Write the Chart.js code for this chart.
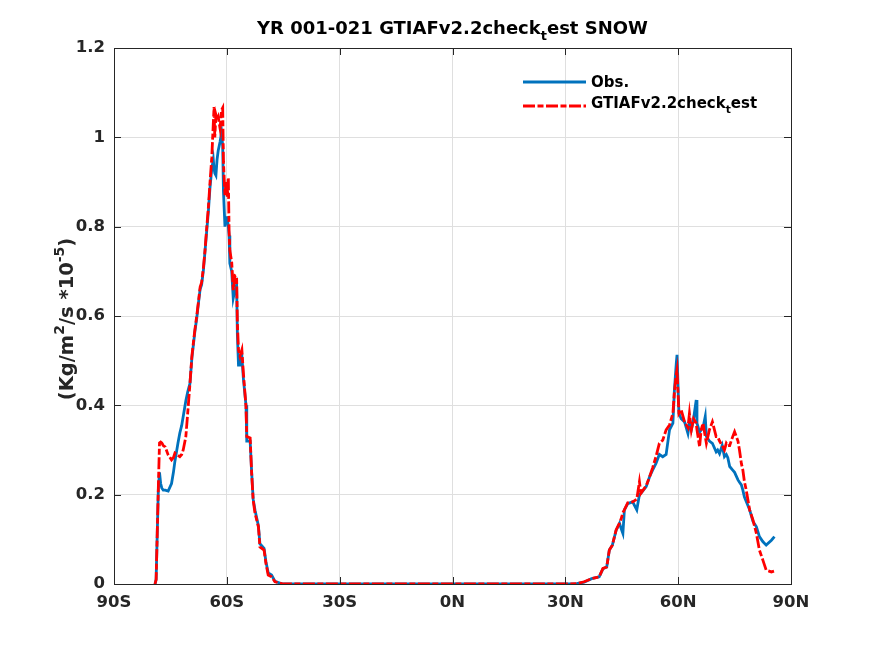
<!DOCTYPE html>
<html>
<head>
<meta charset="utf-8">
<script src="https://cdn.jsdelivr.net/npm/chart.js@4.4.1/dist/chart.umd.min.js"></script>
<style>
html, body { margin: 0; padding: 0; background: #ffffff; }
#wrap { width: 875px; height: 656px; }
</style>
</head>
<body>
<div id="wrap"><canvas id="chart" width="875" height="656"></canvas></div>
<script>
// latitudes (deg, negative = south)
var lats = [
  -79.1, -78.8, -78.5, -78.2, -77.9, -77.6, -77.3, -76.9, -76.4, -75.6,
  -74.7, -74.2, -73.8, -73.0, -72.5, -72.0, -71.6, -70.9, -70.4, -69.8,
  -69.3, -68.9, -68.5, -68.0, -67.6, -67.1, -66.7, -66.2, -65.8, -65.4,
  -64.9, -64.5, -64.0, -63.6, -63.4, -63.2, -62.9, -62.6, -62.3, -61.8,
  -61.4, -61.1, -60.9, -60.5, -60.2, -59.9, -59.6, -59.4, -59.2, -58.7,
  -58.3, -57.8, -57.4, -57.2, -56.9, -56.5, -56.0, -55.6, -54.9, -54.7,
  -53.8, -53.4, -53.0, -52.5, -51.6, -51.2, -50.1, -49.6, -49.0, -48.1,
  -47.2, -45.9, -45.0, -30.0, 0.0, 30.0, 33.0, 35.0, 37.0, 39.0,
  40.0, 41.0, 41.7, 42.5, 43.5, 44.4, 45.0, 45.3, 45.7, 46.6,
  47.9, 49.0, 49.7, 50.1, 51.5, 52.4, 53.2, 54.1, 55.0, 55.9,
  56.8, 57.7, 58.6, 59.0, 59.5, 59.7, 60.2, 60.8, 61.7, 62.6,
  63.0, 63.5, 64.1, 64.8, 65.0, 65.7, 66.1, 66.6, 67.2, 67.5,
  68.3, 69.1, 69.2, 70.1, 70.5, 71.0, 71.7, 72.3, 72.8, 73.2,
  73.7, 74.5, 75.0, 75.9, 76.3, 76.8, 77.2, 77.6, 78.1, 79.0,
  79.9, 80.8, 81.6, 82.5, 83.4, 84.8, 85.6
];

// Obs. snowfall (Kg/m^2/s *10^-5)
var obs = [
  0, 0.01, 0.114, 0.215, 0.25, 0.225, 0.215, 0.21, 0.21, 0.208,
  0.225, 0.25, 0.275, 0.315, 0.338, 0.355, 0.375, 0.41, 0.43, 0.449,
  0.505, 0.535, 0.565, 0.595, 0.625, 0.66, 0.67, 0.705, 0.745, 0.785,
  0.835, 0.885, 0.93, 0.95, 0.93, 0.92, 0.915, 0.95, 0.97, 0.99,
  1.01, 0.98, 0.88, 0.80, 0.82, 0.82, 0.80, 0.78, 0.718, 0.70,
  0.64, 0.66, 0.67, 0.56, 0.49, 0.49, 0.51, 0.46, 0.40, 0.32,
  0.32, 0.25, 0.19, 0.165, 0.13, 0.09, 0.08, 0.05, 0.025, 0.02,
  0.006, 0.002, 0, 0, 0, 0, 0.001, 0.004, 0.012, 0.016,
  0.034, 0.038, 0.076, 0.087, 0.12, 0.136, 0.12, 0.113, 0.166, 0.18,
  0.184, 0.166, 0.20, 0.203, 0.218, 0.24, 0.255, 0.27, 0.29, 0.285,
  0.29, 0.345, 0.36, 0.434, 0.494, 0.513, 0.382, 0.37, 0.363, 0.337,
  0.36, 0.345, 0.37, 0.412, 0.36, 0.34, 0.345, 0.35, 0.375, 0.33,
  0.32, 0.315, 0.315, 0.296, 0.30, 0.292, 0.31, 0.285, 0.29, 0.283,
  0.263, 0.255, 0.25, 0.233, 0.228, 0.222, 0.21, 0.195, 0.185, 0.166,
  0.14, 0.128, 0.106, 0.095, 0.087, 0.098, 0.106
];

// GTIAFv2.2check_test snowfall
var model = [
  0, 0.01, 0.114, 0.22, 0.316, 0.318, 0.316, 0.31, 0.307, 0.289,
  0.278, 0.283, 0.293, 0.288, 0.285, 0.29, 0.30, 0.33, 0.383, 0.449,
  0.509, 0.54, 0.569, 0.60, 0.628, 0.665, 0.675, 0.71, 0.747, 0.792,
  0.844, 0.896, 0.955, 1.03, 1.068, 1.0, 1.05, 1.04, 1.046, 1.02,
  1.061, 1.066, 0.945, 0.87, 0.90, 0.867, 0.91, 0.79, 0.747, 0.72,
  0.658, 0.69, 0.688, 0.584, 0.524, 0.51, 0.524, 0.472, 0.397, 0.33,
  0.327, 0.248, 0.188, 0.158, 0.128, 0.083, 0.076, 0.046, 0.02, 0.016,
  0.005, 0.002, 0, 0, 0, 0, 0.001, 0.005, 0.012, 0.016,
  0.035, 0.038, 0.076, 0.087, 0.121, 0.136, 0.15, 0.16, 0.166, 0.182,
  0.184, 0.19, 0.229, 0.203, 0.22, 0.24, 0.26, 0.285, 0.315, 0.322,
  0.345, 0.356, 0.382, 0.43, 0.47, 0.48, 0.382, 0.39, 0.363, 0.35,
  0.382, 0.345, 0.37, 0.36, 0.345, 0.307, 0.345, 0.36, 0.33, 0.315,
  0.345, 0.363, 0.36, 0.33, 0.33, 0.32, 0.31, 0.30, 0.315, 0.31,
  0.31, 0.33, 0.341, 0.32, 0.30, 0.27, 0.255, 0.23, 0.21, 0.166,
  0.143, 0.113, 0.076, 0.054, 0.031, 0.027, 0.029
];

var xTicks = [-90, -60, -30, 0, 30, 60, 90];
var xTickLabels = ['90S', '60S', '30S', '0N', '30N', '60N', '90N'];
var yTicks = [0, 0.2, 0.4, 0.6, 0.8, 1.0, 1.2];
var yTickLabels = ['0', '0.2', '0.4', '0.6', '0.8', '1', '1.2'];

var axisColor = '#262626';
var gridColor = '#dfdfdf';
var obsColor = '#0072bd';
var modelColor = '#ff0000';
var modelDash = [12, 2.5, 6, 2.5];
var lineW = 2.8;
var fontFam = '"DejaVu Sans", Arial, sans-serif';

function pairs(ys) {
  var out = [];
  for (var i = 0; i < lats.length; i++) {
    out.push({ x: lats[i], y: ys[i] });
  }
  return out;
}

// draws text with sub/superscripts, parts = [[text, 'sub'|'sup'|'']]
function drawRich(ctx, parts, x, y, size, align) {
  var total = 0;
  var i, f;
  for (i = 0; i < parts.length; i++) {
    f = parts[i][1] ? size * 0.72 : size;
    ctx.font = 'bold ' + f + 'px ' + fontFam;
    total += ctx.measureText(parts[i][0]).width;
  }
  var cx = x;
  if (align === 'center') cx = x - total / 2;
  ctx.textAlign = 'left';
  ctx.textBaseline = 'alphabetic';
  for (i = 0; i < parts.length; i++) {
    var dy = 0;
    f = size;
    if (parts[i][1] === 'sub') { f = size * 0.72; dy = size * 0.32; }
    if (parts[i][1] === 'sup') { f = size * 0.72; dy = -size * 0.45; }
    ctx.font = 'bold ' + f + 'px ' + fontFam;
    ctx.fillText(parts[i][0], cx, y + dy);
    cx += ctx.measureText(parts[i][0]).width;
  }
}

var decorPlugin = {
  id: 'decor',
  afterDraw: function (chart) {
    var ctx = chart.ctx;
    var a = chart.chartArea;
    var xs = chart.scales.x;
    var ys = chart.scales.y;
    var tl = 7;
    var i, p;

    ctx.save();
    ctx.strokeStyle = axisColor;
    ctx.lineWidth = 1;
    ctx.beginPath();
    // inward tick marks on all four sides
    for (i = 0; i < xTicks.length; i++) {
      p = Math.round(xs.getPixelForValue(xTicks[i])) + 0.5;
      ctx.moveTo(p, a.bottom); ctx.lineTo(p, a.bottom - tl);
      ctx.moveTo(p, a.top); ctx.lineTo(p, a.top + tl);
    }
    for (i = 0; i < yTicks.length; i++) {
      p = Math.round(ys.getPixelForValue(yTicks[i])) + 0.5;
      ctx.moveTo(a.left, p); ctx.lineTo(a.left + tl, p);
      ctx.moveTo(a.right, p); ctx.lineTo(a.right - tl, p);
    }
    ctx.stroke();
    ctx.strokeRect(Math.round(a.left) + 0.5, Math.round(a.top) + 0.5,
      Math.round(a.right - a.left), Math.round(a.bottom - a.top));

    // title
    ctx.fillStyle = '#000000';
    drawRich(ctx, [['YR 001-021 GTIAFv2.2check', ''], ['t', 'sub'], ['est SNOW', '']],
      (a.left + a.right) / 2, 34, 18, 'center');

    // y axis label
    ctx.fillStyle = axisColor;
    ctx.save();
    ctx.translate(73, 319);
    ctx.rotate(-Math.PI / 2);
    drawRich(ctx, [['(Kg/m', ''], ['2', 'sup'], ['/s *10', ''], ['-5', 'sup'], [')', '']],
      0, 0, 19.5, 'center');
    ctx.restore();

    // legend (no box)
    ctx.lineWidth = lineW;
    ctx.strokeStyle = obsColor;
    ctx.beginPath(); ctx.moveTo(523, 82); ctx.lineTo(586, 82); ctx.stroke();
    ctx.strokeStyle = modelColor;
    ctx.setLineDash(modelDash);
    ctx.beginPath(); ctx.moveTo(523, 106); ctx.lineTo(586, 106); ctx.stroke();
    ctx.setLineDash([]);
    ctx.fillStyle = '#000000';
    drawRich(ctx, [['Obs.', '']], 591, 87, 15, 'left');
    drawRich(ctx, [['GTIAFv2.2check', ''], ['t', 'sub'], ['est', '']], 591, 108, 15, 'left');
    ctx.restore();
  }
};

var ctx = document.getElementById('chart').getContext('2d');
var chart = new Chart(ctx, {
  type: 'line',
  data: {
    datasets: [{
      label: 'Obs.',
      data: pairs(obs),
      borderColor: obsColor,
      borderWidth: lineW,
      pointRadius: 0,
      tension: 0,
      fill: false,
      order: 2
    }, {
      label: 'GTIAFv2.2check_test',
      data: pairs(model),
      borderColor: modelColor,
      borderWidth: lineW,
      borderDash: modelDash,
      pointRadius: 0,
      tension: 0,
      fill: false,
      order: 1
    }]
  },
  options: {
    responsive: false,
    animation: false,
    devicePixelRatio: 1,
    events: [],
    layout: { padding: { left: 0, top: 48, right: 84, bottom: 0 } },
    plugins: {
      legend: { display: false },
      title: { display: false },
      tooltip: { enabled: false }
    },
    scales: {
      x: {
        type: 'linear',
        min: -90,
        max: 90,
        grid: { color: gridColor, drawTicks: false, lineWidth: 1 },
        border: { display: false },
        afterBuildTicks: function (axis) {
          axis.ticks = xTicks.map(function (v) { return { value: v }; });
        },
        afterFit: function (s) { s.height = 72; },
        ticks: {
          padding: 9,
          maxRotation: 0,
          autoSkip: false,
          color: axisColor,
          font: { family: fontFam, size: 16.5, weight: 'bold' },
          callback: function (v) {
            var k = xTicks.indexOf(v);
            return k >= 0 ? xTickLabels[k] : '';
          }
        }
      },
      y: {
        min: 0,
        max: 1.2,
        grid: { color: gridColor, drawTicks: false, lineWidth: 1 },
        border: { display: false },
        afterBuildTicks: function (axis) {
          axis.ticks = yTicks.map(function (v) { return { value: v }; });
        },
        afterFit: function (s) { s.width = 114; },
        ticks: {
          padding: 9,
          autoSkip: false,
          color: axisColor,
          font: { family: fontFam, size: 16.5, weight: 'bold' },
          callback: function (v) {
            for (var k = 0; k < yTicks.length; k++) {
              if (Math.abs(yTicks[k] - v) < 1e-6) return yTickLabels[k];
            }
            return '';
          }
        }
      }
    }
  },
  plugins: [decorPlugin]
});
</script>
</body>
</html>
